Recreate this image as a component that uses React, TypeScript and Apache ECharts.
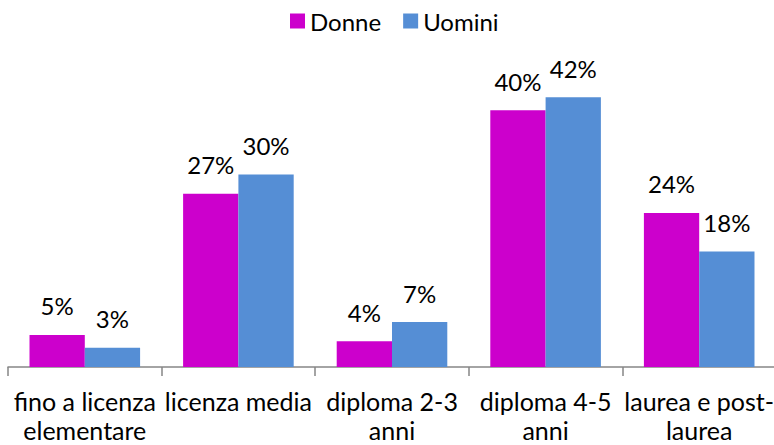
import React, { useEffect, useRef } from "react";
import * as echarts from "echarts";

const categories = [
  "fino a licenza\nelementare",
  "licenza media",
  "diploma 2-3\nanni",
  "diploma 4-5\nanni",
  "laurea e post-\nlaurea",
];
const donne = [5, 27, 4, 40, 24];
const uomini = [3, 30, 7, 42, 18];

const FONT = "Lato";

export default function App() {
  const ref = useRef<HTMLDivElement>(null);
  useEffect(() => {
    if (!ref.current) return;
    const chart = echarts.init(ref.current, null, { renderer: "svg" });
    const label = {
      show: true,
      position: "top",
      distance: 17,
      formatter: "{c}%",
      color: "#000",
      fontFamily: FONT,
      fontSize: 24,
    };
    chart.setOption({
      animation: false,
      legend: {
        left: 285,
        top: 4,
        itemWidth: 15,
        itemHeight: 15,
        itemGap: 22,
        icon: "rect",
        textStyle: { fontFamily: FONT, fontSize: 24, color: "#000" },
        data: ["Donne", "Uomini"],
      },
      grid: { left: 8, right: -2, top: 46, bottom: 78, containLabel: false, outerBoundsMode: "none" },
      xAxis: {
        type: "category",
        data: categories,
        axisLine: { lineStyle: { color: "#868686", width: 1.5 } },
        axisTick: { show: true, length: 9, lineStyle: { color: "#868686", width: 1.5 } },
        axisLabel: {
          interval: 0,
          color: "#000",
          fontFamily: FONT,
          fontSize: 25,
          lineHeight: 29,
          margin: 19,
        },
      },
      yAxis: {
        type: "value",
        min: 0,
        max: 50,
        show: false,
        splitLine: { show: false },
      },
      series: [
        {
          name: "Donne",
          type: "bar",
          data: donne,
          barGap: "0%",
          barCategoryGap: "28%",
          itemStyle: { color: "#CC00CC" },
          label,
        },
        {
          name: "Uomini",
          type: "bar",
          data: uomini,
          barGap: "0%",
          barCategoryGap: "28%",
          itemStyle: { color: "#558ED5" },
          label,
        },
      ],
    });
    return () => chart.dispose();
  }, []);
  return <div ref={ref} style={{ width: 774, height: 445, position: "absolute", left: 0, top: 0 }} />;
}
